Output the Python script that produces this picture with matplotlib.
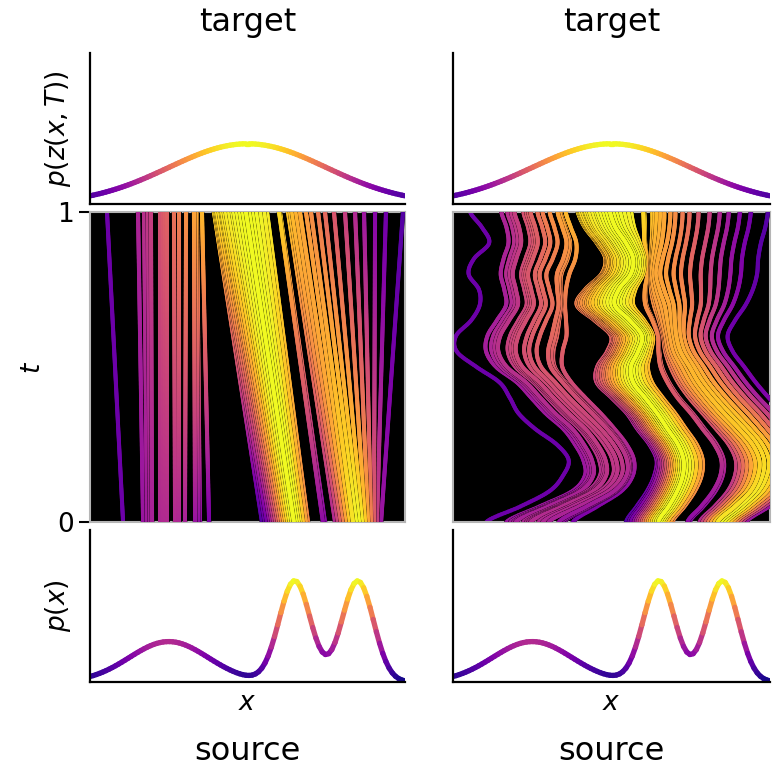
import numpy as np
import matplotlib
matplotlib.use('Agg')
import matplotlib.pyplot as plt
from matplotlib.collections import LineCollection

# source density p(x): three gaussians
SRC_MEANS = [-0.5, 0.3, 0.7]
SRC_STDS = [0.25, 0.1, 0.1]
SRC_WEIGHTS = [1 / 3, 1 / 3, 1 / 3]
# target density p(z(x, T)): one gaussian (top curves)
TGT_MEAN = 0.0
TGT_STD = 0.5
Y_MAX = 2.0

# trajectory end points: x at t=0 (source) and at t=1 (target)
X0 = [-0.790, -0.663, -0.638, -0.619, -0.606, -0.556, -0.537, -0.524, -0.511,
      -0.460, -0.435, -0.397, -0.333, -0.314, -0.302, -0.244,
      0.092, 0.111, 0.124, 0.143, 0.156, 0.168, 0.181, 0.194, 0.206, 0.219,
      0.232, 0.244, 0.257, 0.270, 0.283, 0.295, 0.308, 0.321, 0.333, 0.352,
      0.371, 0.384,
      0.479, 0.492, 0.556, 0.575, 0.594, 0.613, 0.632, 0.651, 0.670, 0.689,
      0.708, 0.727, 0.746, 0.765, 0.784, 0.803, 0.822, 0.848]
X1 = [-0.892, -0.695, -0.657, -0.632, -0.613, -0.556, -0.537, -0.524, -0.511,
      -0.467, -0.435, -0.390, -0.340, -0.327, -0.321, -0.289,
      -0.213, -0.206, -0.200, -0.194, -0.181, -0.168, -0.162, -0.149, -0.137,
      -0.117, -0.098, -0.086, -0.067, -0.048, -0.029, -0.010, 0.010, 0.029,
      0.054, 0.079, 0.105, 0.124,
      0.200, 0.206, 0.257, 0.270, 0.283, 0.308, 0.333, 0.371, 0.403, 0.448,
      0.492, 0.549, 0.619, 0.683, 0.740, 0.810, 0.879, 0.987]

# sideways wiggle of the right-hand flow, per source position and time
WIGGLE_T = [0.0, 0.05, 0.1, 0.15, 0.2, 0.25, 0.3, 0.35, 0.4, 0.45, 0.5,
            0.55, 0.6, 0.65, 0.7, 0.75, 0.8, 0.85, 0.9, 0.95, 1.0]
WIGGLE_X0 = [-0.78, -0.66, -0.4, 0.1, 0.3, 0.48, 0.65, 0.85]
WIGGLE_DX = [
    [0, .22, .41, .50, .54, .47, .34, .24, .19, .13, -.01, -.13, -.13, -.03, .03, .03, -.03, .01, .11, .07, 0],
    [0, .21, .42, .50, .49, .44, .37, .26, .17, .08, -.05, -.11, -.10, -.04, .02, .01, -.01, .01, .04, .03, 0],
    [0, .19, .38, .46, .46, .41, .33, .23, .13, .04, -.05, -.08, -.06, -.02, .02, .00, -.02, .02, .05, .03, 0],
    [0, .08, .16, .22, .25, .22, .16, .11, .03, -.05, -.03, .05, .09, .00, -.10, -.03, .09, .13, .09, .03, 0],
    [0, .08, .15, .20, .22, .20, .15, .10, .04, -.02, -.02, .04, .08, .02, -.06, -.02, .07, .10, .07, .02, 0],
    [0, .10, .19, .25, .27, .24, .18, .12, .05, .00, -.03, -.03, -.02, -.04, -.07, -.06, -.03, -.02, -.02, -.01, 0],
    [0, .12, .23, .29, .31, .28, .21, .13, .06, .00, -.04, -.08, -.09, -.09, -.09, -.11, -.12, -.09, -.05, -.02, 0],
    [0, .14, .27, .34, .37, .34, .27, .19, .09, .00, -.08, -.16, -.20, -.16, -.10, -.06, -.04, -.04, -.03, -.01, 0],
]


def gauss(x, m, s):
    return np.exp(-0.5 * ((x - m) / s) ** 2) / (s * np.sqrt(2 * np.pi))


def p_source(x):
    return sum(w * gauss(x, m, s) for m, s, w in zip(SRC_MEANS, SRC_STDS, SRC_WEIGHTS))


def p_target(x):
    return gauss(x, TGT_MEAN, TGT_STD)


def catmull(tk, yk, t):
    '''Catmull-Rom curve through equally spaced knots'''
    yk = np.asarray(yk, dtype=float)
    h = tk[1] - tk[0]
    n = len(yk)
    i = np.clip(np.floor(t / h).astype(int), 0, n - 2)
    s = t / h - i
    p0 = yk[np.clip(i - 1, 0, n - 1)]
    p1 = yk[i]
    p2 = yk[i + 1]
    p3 = yk[np.clip(i + 2, 0, n - 1)]
    return 0.5 * (2 * p1 + (-p0 + p2) * s + (2 * p0 - 5 * p1 + 4 * p2 - p3) * s ** 2
                  + (-p0 + 3 * p1 - 3 * p2 + p3) * s ** 3)


def colored_line(ax, x, y, c, lw, zorder=2, outline=0.0):
    pts = np.column_stack([x, y]).reshape(-1, 1, 2)
    segs = np.concatenate([pts[:-1], pts[1:]], axis=1)
    cc = 0.5 * (c[:-1] + c[1:])
    if outline:
        ax.plot(x, y, color='black', lw=lw + outline, zorder=zorder,
                solid_capstyle='round', solid_joinstyle='round')
    lc = LineCollection(segs, colors=plt.cm.plasma(cc), linewidths=lw,
                        capstyle='round', joinstyle='round', zorder=zorder + 0.5)
    ax.add_collection(lc)


def density_panel(ax, dens_fn):
    xs = np.linspace(-1, 1, 100)
    d = dens_fn(xs)
    colored_line(ax, xs, d, d / d.max(), 3.8)
    ax.set_xlim(-1, 1)
    ax.set_ylim(0, Y_MAX)
    ax.set_xticks([])
    ax.set_yticks([])
    for side in ['top', 'right']:
        ax.spines[side].set_visible(False)
    for side in ['left', 'bottom']:
        ax.spines[side].set_linewidth(1.6)


def flow_panel(ax, wiggle):
    ts = np.linspace(0, 1, 240)
    x0 = np.array(X0)
    x1 = np.array(X1)
    c0 = p_source(x0) / p_source(np.linspace(-1, 1, 400)).max()
    c1 = p_target(x1) / p_target(0.0)
    dx_tab = np.array(WIGGLE_DX)
    order = np.argsort(0.5 * (c0 + c1))
    for rank, k in enumerate(order):
        z = (1 - ts) * x0[k] + ts * x1[k]
        if wiggle:
            knots = [np.interp(x0[k], WIGGLE_X0, dx_tab[:, j]) for j in range(len(WIGGLE_T))]
            z = z + catmull(WIGGLE_T, knots, ts)
        c = (1 - ts) * c0[k] + ts * c1[k]
        colored_line(ax, z, ts, c, 2.9, zorder=2 + rank, outline=0.45)
    ax.set_facecolor('black')
    ax.set_xlim(-1, 1)
    ax.set_ylim(0, 1)
    ax.set_xticks([])
    for sp in ax.spines.values():
        sp.set_color('#b5b5b5')
        sp.set_linewidth(1.5)


fig = plt.figure(figsize=(7.75, 7.82), dpi=100)

cols = [(90 / 775, 315 / 775), (453 / 775, 317 / 775)]
H = 782
for j, (left, width) in enumerate(cols):
    ax_top = fig.add_axes([left, 1 - 204 / H, width, 151 / H])
    ax_mid = fig.add_axes([left, 1 - 522 / H, width, 310 / H])
    ax_bot = fig.add_axes([left, 1 - 682 / H, width, 152 / H])

    density_panel(ax_top, p_target)
    density_panel(ax_bot, p_source)
    flow_panel(ax_mid, wiggle=(j == 1))

    ax_top.set_title('target', fontsize=23, pad=16)
    ax_bot.set_xlabel('$x$', fontsize=19, labelpad=6)
    fig.text(left + width / 2, 1 - 752 / H, 'source', fontsize=23,
             ha='center', va='center')

    if j == 0:
        ax_top.set_ylabel('$p(z(x, T))$', fontsize=19, labelpad=12)
        ax_bot.set_ylabel('$p(x)$', fontsize=19, labelpad=12)
        ax_mid.set_yticks([0, 1])
        ax_mid.tick_params(axis='y', labelsize=19, length=8, width=1.5)
        ax_mid.set_ylabel('$t$', fontsize=19, labelpad=8)
    else:
        ax_mid.set_yticks([])

fig.savefig('out.png', dpi=100)
